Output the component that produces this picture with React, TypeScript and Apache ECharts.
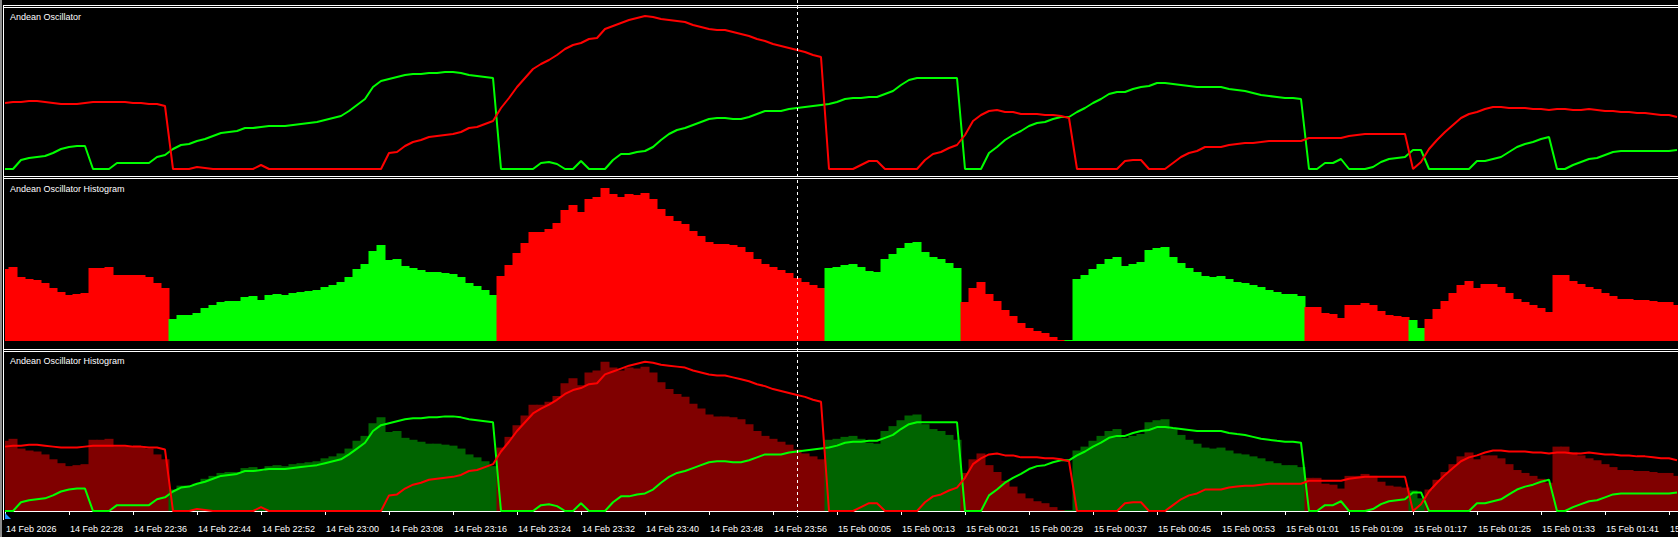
import React, { useEffect, useRef } from "react";
import * as echarts from "echarts";

const W = 1678;
const H = 537;

// Bear (red) line of the Andean Oscillator, one value per 1-minute bar
const bear = [
  66, 67, 67, 68, 68, 67, 66, 65, 65, 65, 66, 67, 67, 67, 67, 67, 66, 66, 65, 65, 63,
  0, 0, 0, 2, 1, 0, 0, 0, 0, 0, 0, 4, 0, 0, 0, 0, 0, 0, 0, 0, 0, 0, 0, 0, 0, 0, 0,
  16, 17, 23, 27, 29, 32, 33, 34, 35, 37, 41, 42, 45, 48,
  61, 71, 82, 91, 100, 105, 109, 114,
  120, 124, 126, 130, 131, 140, 143, 146, 149, 151, 153, 152, 150, 149, 148, 147, 144, 142, 140, 139, 139, 137, 135, 133, 130, 128, 125, 123, 121, 119, 117, 114, 112,
  0, 0, 0, 0, 4, 8, 8, 0, 0, 0, 0, 0, 9, 15, 17, 21, 24,
  34, 48, 54, 58, 59, 57, 57, 55, 55, 55, 54, 54, 53, 51,
  0, 0, 0, 0, 0, 0,
  8, 9, 9, 0, 0, 0, 6, 12, 16, 18, 22, 22, 22, 24, 25, 26, 26, 27, 28, 28, 28, 28, 28,
  31, 31, 31, 31, 31, 33, 34, 35, 35, 35, 35, 35, 35,
  0, 7,
  20, 29, 37, 44, 51, 55, 57, 60, 62, 62, 61, 61, 61, 60, 60, 59, 60, 60, 59, 59, 60, 59, 58, 58, 57, 57, 56, 56, 55, 54, 54, 52,
];

// Bull (green) line
const bull = [
  0, 0, 9, 11, 12, 13, 16, 20, 22, 23, 23, 0, 0, 0, 6, 6, 6, 6, 6, 12, 14,
  20, 24, 25, 28, 30, 33, 36, 37, 38, 41, 41, 42, 43, 43, 43, 44, 45, 46, 47, 49,
  51, 53, 58, 64, 70, 82, 88, 90, 92, 94, 95, 95, 96, 96, 97, 97, 96, 94, 93, 92, 91,
  0, 0, 0, 0, 0, 6, 7, 5, 0, 0, 8, 0, 0, 0, 9, 15, 15, 17, 18, 22, 29, 35, 39, 41, 44,
  47, 50, 51, 51, 50, 50, 52, 55, 58, 58, 58, 60, 61, 62, 63, 64,
  65, 67, 70, 71, 71, 72, 72, 75, 78, 84, 89, 91, 91, 91, 91, 91, 91,
  0, 0, 0, 16, 22, 29, 34, 38, 43, 46, 47, 50, 52, 52, 57, 61, 66, 70, 75, 77,
  77, 80, 82, 83, 86, 86, 85, 84, 83, 82, 82, 82, 82, 80, 79, 78, 76, 74, 73, 72, 71, 71, 70,
  0, 0, 6, 6, 10, 0, 0, 0, 2, 7, 10, 11, 12, 19, 19,
  0, 0, 0, 0, 0, 0, 8, 8, 10, 12, 17, 22, 25, 27, 30, 32, 0, 0, 4, 7, 10, 11, 14, 17, 18, 18, 18, 18, 18, 18, 18, 19,
];

// Histogram magnitude |bull - bear|
const hist = [
  72, 74, 64, 62, 61, 58, 53, 49, 46, 47, 48, 73, 73, 74, 66, 66, 66, 66, 64, 58, 53,
  22, 26, 26, 28, 33, 36, 39, 40, 40, 44, 45, 41, 46, 47, 46, 48, 49, 50, 51, 54,
  56, 59, 64, 72, 77, 90, 96, 81, 82, 75, 73, 71, 69, 69, 68, 67, 64, 58, 55, 51, 46,
  65, 76, 88, 98, 109, 109, 112, 118,
  131, 136, 129, 142, 144, 153, 147, 144, 147, 146, 148, 142, 132, 125, 120, 117, 110, 105, 99, 97, 97, 96, 94, 89, 82, 77, 74, 71, 68, 63, 59, 56, 53,
  73, 74, 76, 77, 74, 70, 69, 82, 87, 93, 98, 99, 89, 84, 82, 78, 73,
  39, 53, 59, 47, 40, 31, 25, 18, 13, 10, 8, 4, 1, 1,
  62, 66, 72, 77, 82, 84,
  75, 77, 79, 91, 93, 94, 84, 78, 73, 69, 65, 64, 65, 62, 59, 58, 56, 54, 51, 49, 47, 47, 45,
  34, 34, 28, 27, 23, 36, 36, 38, 36, 30, 26, 25, 24, 21, 13,
  22, 32, 40, 48, 56, 60, 53, 57, 57, 54, 48, 42, 39, 36, 33, 29, 66, 66, 60, 57, 54, 52, 48, 45, 42, 42, 41, 41, 40, 39, 39, 36,
];

// Time-axis labels, one every 8 bars
const tickLabels = [
  "14 Feb 2026", "14 Feb 22:28", "14 Feb 22:36", "14 Feb 22:44", "14 Feb 22:52",
  "14 Feb 23:00", "14 Feb 23:08", "14 Feb 23:16", "14 Feb 23:24", "14 Feb 23:32",
  "14 Feb 23:40", "14 Feb 23:48", "14 Feb 23:56", "15 Feb 00:05", "15 Feb 00:13",
  "15 Feb 00:21", "15 Feb 00:29", "15 Feb 00:37", "15 Feb 00:45", "15 Feb 00:53",
  "15 Feb 01:01", "15 Feb 01:09", "15 Feb 01:17", "15 Feb 01:25", "15 Feb 01:33",
  "15 Feb 01:41", "15 Feb 01:49",
];
const labelEvery = 8;
const crosshairBar = 99;
const paneTitles = ["Andean Oscillator", "Andean Oscillator Histogram", "Andean Oscillator Histogram"];

const RED = "#ff0000";
const GREEN = "#00ff00";
const DARK_RED = "#800000";
const DARK_GREEN = "#006400";
const FONT = "Liberation Sans";

export default function App() {
  const ref = useRef<HTMLDivElement>(null);

  useEffect(() => {
    document.body.style.margin = "0";
    document.body.style.background = "#000";
    const chart = echarts.init(ref.current!, null, { renderer: "svg", width: W, height: H });

    const cats = bull.map((_, i) => String(i));
    const isBull = bull.map((b, i) => b > bear[i]);
    const histBright = hist.map((v, i) => ({ value: v, itemStyle: { color: isBull[i] ? GREEN : RED } }));
    const histDark = hist.map((v, i) => ({ value: v, itemStyle: { color: isBull[i] ? DARK_GREEN : DARK_RED } }));

    const nBars = cats.length;
    const barPx = 8;
    const grids = [
      { left: 1, top: 8, width: nBars * barPx, height: 161 },
      { left: 1, top: 180, width: nBars * barPx, height: 161 },
      { left: 1, top: 352, width: nBars * barPx, height: 159 },
    ];
    const yMax = [161, 161, 163];

    const lineSeries = (name: string, data: number[], color: string, idx: number) => ({
      name,
      type: "line",
      xAxisIndex: idx,
      yAxisIndex: idx,
      data,
      symbol: "none",
      showSymbol: false,
      clip: false,
      lineStyle: { width: 2, color },
      itemStyle: { color },
      z: 3,
      silent: true,
    });

    const barSeries = (name: string, data: any[], idx: number) => ({
      name,
      type: "bar",
      xAxisIndex: idx,
      yAxisIndex: idx,
      data,
      barWidth: barPx + 1,
      barCategoryGap: "0%",
      itemStyle: { borderWidth: 0 },
      silent: true,
    });

    const option: any = {
      animation: false,
      backgroundColor: "#000000",
      grid: grids.map((g) => ({ ...g, containLabel: false, outerBoundsMode: "none", show: false })),
      xAxis: [0, 1, 2].map((i) => ({
        type: "category",
        gridIndex: i,
        data: cats,
        boundaryGap: true,
        show: i === 2,
        position: "bottom",
        offset: i === 2 ? 8 : 0,
        axisLine: { show: i === 2, lineStyle: { color: "#ffffff", width: 1 } },
        axisTick: {
          show: i === 2,
          alignWithLabel: true,
          length: 4,
          interval: (idx: number) => idx % labelEvery === 0,
          lineStyle: { color: "#ffffff" },
        },
        axisLabel: {
          show: i === 2,
          interval: (idx: number) => idx % labelEvery === 0,
          formatter: (_v: string, idx: number) => tickLabels[idx / labelEvery] ?? "",
          color: "#ffffff",
          fontSize: 9,
          fontFamily: FONT,
          align: "left",
          margin: 5,
          padding: [0, 0, 0, 1],
          hideOverlap: false,
        },
        splitLine: { show: false },
      })),
      yAxis: [0, 1, 2].map((i) => ({
        type: "value",
        gridIndex: i,
        min: 0,
        max: yMax[i],
        show: false,
        splitLine: { show: false },
      })),
      series: [
        lineSeries("Bull", bull, GREEN, 0),
        lineSeries("Bear", bear, RED, 0),
        barSeries("Histogram", histBright, 1),
        barSeries("Histogram dark", histDark, 2),
        lineSeries("Bull 2", bull, GREEN, 2),
        lineSeries("Bear 2", bear, RED, 2),
      ],
    };
    chart.setOption(option);

    const cx = Math.round(chart.convertToPixel({ xAxisIndex: 0 }, crosshairBar) as number) + 0.5;

    const white = "#ffffff";
    const hLine = (y: number) => ({ type: "rect", shape: { x: 3, y, width: W, height: 1 }, style: { fill: white }, z: 100 });
    chart.setOption({
      graphic: [
        { type: "rect", shape: { x: 0, y: 0, width: 5, height: H }, style: { fill: "#000000" }, z: 99 },
        { type: "rect", shape: { x: 0, y: 0, width: 2, height: H }, style: { fill: "#8c8c8c" }, z: 100 },
        { type: "rect", shape: { x: 3, y: 5, width: 1, height: 515 }, style: { fill: white }, z: 100 },
        hLine(5),
        hLine(7),
        hLine(176),
        hLine(178),
        hLine(349),
        hLine(351),
        {
          type: "line",
          shape: { x1: cx, y1: 0, x2: cx, y2: 517 },
          style: { stroke: white, lineWidth: 1, lineDash: [3, 3] },
          z: 101,
        },
        {
          type: "polygon",
          shape: { points: [[5, 513], [5, 519], [11, 519]] },
          style: { fill: "#1e90ff" },
          z: 101,
        },
        ...[17, 189, 361].map((y, i) => ({
          type: "text",
          x: 10,
          y,
          style: {
            text: paneTitles[i],
            fill: "#ffffff",
            font: `9px "${FONT}"`,
            verticalAlign: "middle",
          },
          z: 102,
        })),
      ],
    });

    return () => chart.dispose();
  }, []);

  return (
    <div
      ref={ref}
      style={{ position: "fixed", left: 0, top: 0, width: W, height: H, background: "#000" }}
    />
  );
}
